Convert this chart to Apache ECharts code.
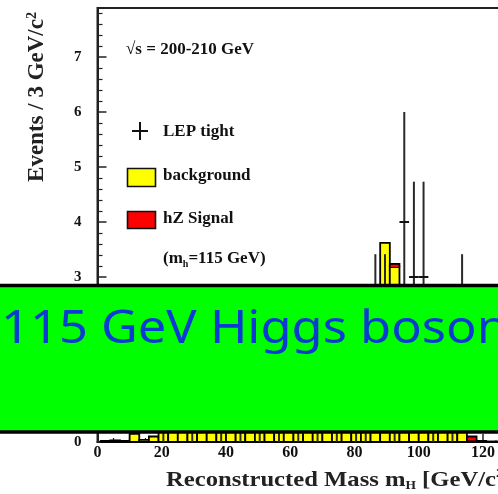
<!DOCTYPE html>
<html>
<head>
<meta charset="utf-8">
<title>Reconstructed Higgs mass</title>
<script src="https://cdn.jsdelivr.net/npm/echarts@6/dist/echarts.min.js"></script>
<style>
  html, body { margin: 0; padding: 0; background: #fff; }
  #chart { width: 498px; height: 494px; }
</style>
</head>
<body>
<div id="chart"></div>
<script>
// Histogram bins (lower edges, GeV/c^2), 3 GeV wide
const BIN_WIDTH = 3;
const binLow = [1, 4, 7, 10, 13, 16, 19, 22, 25, 28, 31, 34, 37, 40, 43, 46, 49, 52, 55, 58, 61,
                64, 67, 70, 73, 76, 79, 82, 85, 88, 91, 94, 97, 100, 103, 106, 109, 112, 115, 118, 121, 124];

// Expected background per bin
const background = [0.02, 0.03, 0.02, 0.15, 0.04, 0.10, 0.25, 0.30, 0.20, 0.35, 0.30, 0.45, 0.40, 0.50,
                    0.45, 0.55, 0.60, 0.55, 0.70, 0.75, 0.80, 0.85, 0.90, 1.00, 1.10, 1.25, 1.45, 1.90,
                    2.60, 3.62, 3.18, 2.40, 1.60, 1.00, 0.70, 0.55, 0.40, 0.30, 0.03, 0.02, 0.01, 0.01];

// Expected hZ signal (m_h = 115 GeV), stacked on the background
const signal = [0, 0, 0, 0, 0, 0, 0, 0, 0, 0, 0, 0, 0, 0, 0, 0, 0, 0, 0, 0, 0, 0, 0, 0, 0, 0, 0, 0,
                0, 0, 0.06, 0.05, 0.08, 0.10, 0.15, 0.20, 0.30, 0.35, 0.07, 0, 0, 0];

// LEP tight selection: observed events per bin
const lepTight = [0, 0, 0, 0, 0, 0, 1, 0, 0, 1, 0, 0, 1, 0, 1, 0, 1, 0, 1, 0, 1, 0, 1, 0, 1, 0, 1, 1,
                  2, 2, 1, 4, 3, 3, 1, 0, 1, 2, 0, 0, 0, 0];

const yTickLabels = ['0', '1', '2', '3', '4', '5', '6', '7'];

const serif = '"Liberation Serif", "Times New Roman", serif';

const histData = binLow.map((lo, i) => [lo, lo + BIN_WIDTH, background[i], signal[i]]);
const dataPoints = [];
binLow.forEach((lo, i) => {
  if (lepTight[i] > 0) dataPoints.push([lo + BIN_WIDTH / 2, lepTight[i]]);
});

const chart = echarts.init(document.getElementById('chart'), null, { renderer: 'canvas' });

function renderHist(params, api) {
  const lo = api.value(0), hi = api.value(1), b = api.value(2), s = api.value(3);
  const base = api.coord([lo, 0]);
  const top = api.coord([hi, b]);
  const children = [];
  if (b > 0) {
    children.push({
      type: 'rect',
      shape: { x: base[0], y: top[1], width: top[0] - base[0], height: base[1] - top[1] },
      style: { fill: '#ffff00', stroke: '#000', lineWidth: 1.8 }
    });
  }
  if (s > 0) {
    const sTop = api.coord([hi, b + s]);
    children.push({
      type: 'rect',
      shape: { x: base[0], y: sTop[1], width: sTop[0] - base[0], height: top[1] - sTop[1] },
      style: { fill: '#ff0000', stroke: null }
    });
    children.push({
      type: 'polyline',
      shape: { points: [[base[0], top[1]], [base[0], sTop[1]], [sTop[0], sTop[1]], [sTop[0], top[1]]] },
      style: { stroke: '#000', lineWidth: 1.8, fill: null }
    });
  }
  return { type: 'group', children };
}

// Observed counts with sqrt(N) vertical error and bin-width horizontal bar
function renderPoints(params, api) {
  const x = api.value(0), n = api.value(1);
  const err = Math.sqrt(n);
  const lo = api.coord([x, n - err]);
  const hi = api.coord([x, n + err]);
  const left = api.coord([x - BIN_WIDTH / 2, n]);
  const right = api.coord([x + BIN_WIDTH / 2, n]);
  return {
    type: 'group',
    children: [
      { type: 'line', shape: { x1: lo[0], y1: lo[1], x2: hi[0], y2: hi[1] },
        style: { stroke: '#2a2a2a', lineWidth: 2 } },
      { type: 'line', shape: { x1: left[0], y1: left[1], x2: right[0], y2: right[1] },
        style: { stroke: '#111', lineWidth: 2 } }
    ]
  };
}

const legendText = { fontFamily: serif, fontWeight: 'bold', fontSize: 17, fill: '#111' };

chart.setOption({
  backgroundColor: '#fff',
  animation: false,
  grid: {
    left: 97.5, top: 8, height: 434, width: 417.6,
    outerBoundsMode: 'none', containLabel: false,
    show: true, borderColor: '#222', borderWidth: 2, backgroundColor: 'transparent'
  },
  xAxis: {
    type: 'value', min: 0, max: 130, interval: 20,
    axisLine: { show: true, lineStyle: { color: '#222', width: 2 } },
    axisTick: { show: true, inside: true, length: 8, lineStyle: { color: '#222', width: 1.5 } },
    minorTick: { show: true, splitNumber: 4, length: 4, lineStyle: { color: '#222', width: 1.2 } },
    splitLine: { show: false },
    axisLabel: { margin: 3, fontFamily: serif, fontWeight: 'bold', fontSize: 16, color: '#111',
                 showMaxLabel: false }
  },
  yAxis: {
    type: 'value', min: 0, max: 7.89, interval: 1,
    axisLine: { show: true, lineStyle: { color: '#222', width: 2 } },
    axisTick: { show: true, inside: true, length: 9, lineStyle: { color: '#222', width: 1.5 } },
    minorTick: { show: true, splitNumber: 5, length: 5, lineStyle: { color: '#222', width: 1.2 } },
    splitLine: { show: false },
    axisLabel: {
      margin: 16, fontFamily: serif, fontWeight: 'bold', fontSize: 15, color: '#111',
      showMaxLabel: false,
      formatter: v => yTickLabels[Math.round(v)] ?? ''
    }
  },
  series: [
    { type: 'custom', name: 'background', renderItem: renderHist, data: histData,
      encode: { x: [0, 1], y: [2] }, z: 2 },
    { type: 'custom', name: 'LEP tight', renderItem: renderPoints, data: dataPoints,
      encode: { x: 0, y: 1 }, z: 3 }
  ],
  graphic: [
    // axis titles
    {
      type: 'text', x: 37, y: 97, rotation: Math.PI / 2, z: 10,
      style: {
        text: 'Events / 3 GeV/c{sup|2}', align: 'center', verticalAlign: 'middle',
        fontFamily: serif, fontWeight: 'bold', fontSize: 23, fill: '#222',
        rich: { sup: { fontFamily: serif, fontWeight: 'bold', fontSize: 14, verticalAlign: 'top', padding: [0, 0, 10, 0] } }
      }
    },
    {
      type: 'text', x: 166, y: 480, z: 10, scaleX: 1.12,
      style: {
        text: 'Reconstructed Mass m{sub|H} [GeV/c{sup|2}]', align: 'left', verticalAlign: 'middle',
        fontFamily: serif, fontWeight: 'bold', fontSize: 22, fill: '#222',
        rich: {
          sub: { fontFamily: serif, fontWeight: 'bold', fontSize: 12, padding: [12, 0, 0, 0] },
          sup: { fontFamily: serif, fontWeight: 'bold', fontSize: 13, padding: [0, 0, 12, 0] }
        }
      }
    },
    // legend block
    {
      type: 'text', x: 126, y: 50, z: 10,
      style: Object.assign({}, legendText, { text: '\u221As = 200-210 GeV', verticalAlign: 'middle' })
    },
    { type: 'line', z: 10, shape: { x1: 132, y1: 131, x2: 148, y2: 131 }, style: { stroke: '#111', lineWidth: 2 } },
    { type: 'line', z: 10, shape: { x1: 140, y1: 122, x2: 140, y2: 140 }, style: { stroke: '#111', lineWidth: 2 } },
    {
      type: 'text', x: 163, y: 132, z: 10,
      style: Object.assign({}, legendText, { text: 'LEP tight', verticalAlign: 'middle' })
    },
    { type: 'rect', z: 10, shape: { x: 127.5, y: 168.5, width: 28, height: 18 },
      style: { fill: '#ffff00', stroke: '#111', lineWidth: 1.6 } },
    {
      type: 'text', x: 163, y: 176, z: 10,
      style: Object.assign({}, legendText, { text: 'background', verticalAlign: 'middle' })
    },
    { type: 'rect', z: 10, shape: { x: 127.5, y: 211.5, width: 28, height: 17 },
      style: { fill: '#ff0000', stroke: '#111', lineWidth: 1.6 } },
    {
      type: 'text', x: 163, y: 219, z: 10,
      style: Object.assign({}, legendText, { text: 'hZ Signal', verticalAlign: 'middle' })
    },
    {
      type: 'text', x: 163, y: 259, z: 10,
      style: Object.assign({}, legendText, {
        text: '(m{sub|h}=115 GeV)', verticalAlign: 'middle',
        rich: { sub: { fontFamily: serif, fontWeight: 'bold', fontSize: 10, padding: [10, 0, 0, 0] } }
      })
    },
    // headline banner across the plot
    {
      type: 'rect', z: 100,
      shape: { x: -5, y: 285.5, width: 510, height: 146.5 },
      style: { fill: '#00ff00', stroke: '#000', lineWidth: 3.5 }
    },
    {
      type: 'text', x: 1, y: 329.5, z: 101, scaleX: 1.1,
      style: {
        text: '115 GeV Higgs boson', align: 'left', verticalAlign: 'middle',
        fontFamily: '"Comic Sans MS", "Noto Sans", sans-serif', fontSize: 46, fill: '#0a3cd2'
      }
    }
  ]
});
</script>
</body>
</html>
